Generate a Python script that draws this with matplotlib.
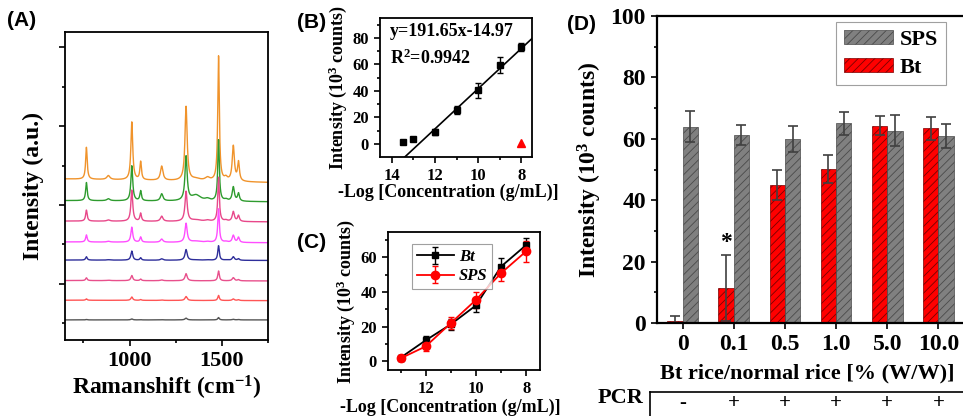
import numpy as np
import matplotlib.pyplot as plt
from matplotlib.patches import Patch
from matplotlib.lines import Line2D
import matplotlib.transforms as mtransforms

plt.rcParams['font.family'] = 'Liberation Serif'
plt.rcParams['font.weight'] = 'bold'
plt.rcParams['axes.labelweight'] = 'bold'
plt.rcParams['mathtext.default'] = 'regular'
plt.rcParams['hatch.linewidth'] = 0.6
plt.rcParams['axes.linewidth'] = 1.3

# ---- panel A: Raman spectra (peak table)
peak_pos = [766, 885, 1012, 1060, 1174, 1306, 1360, 1422, 1482, 1522, 1562, 1590]
peak_hwhm = [5, 10, 6, 5, 8, 7, 30, 15, 5, 10, 7, 6]
spec_colors = ['#F0932B', '#2E9B2E', '#E8488A', '#FF4DFF',
               '#2E2E9A', '#E8508C', '#FF5555', '#555555']
base_left = [3.66, 3.11, 2.59, 2.06, 1.60, 1.08, 0.58, 0.08]
base_right = [3.57, 3.08, 2.57, 2.04, 1.59, 1.07, 0.57, 0.08]
spec_heights = [
    [0.81, 0.10, 1.47, 0.46, 0.36, 1.88, 0.05, 0.08, 3.17, 0.08, 0.89, 0.48],
    [0.46, 0.05, 0.89, 0.25, 0.18, 1.12, 0.15, 0.05, 1.55, 0.04, 0.36, 0.20],
    [0.28, 0.03, 0.79, 0.20, 0.13, 0.76, 0.04, 0.03, 1.12, 0.03, 0.25, 0.15],
    [0.18, 0.02, 0.38, 0.13, 0.08, 0.48, 0.03, 0.02, 0.85, 0.02, 0.18, 0.13],
    [0.085, 0.01, 0.23, 0.06, 0.035, 0.27, 0.01, 0.01, 0.37, 0.01, 0.09, 0.04],
    [0.07, 0.01, 0.13, 0.04, 0.02, 0.18, 0.0, 0.0, 0.25, 0.0, 0.08, 0.03],
    [0.035, 0.0, 0.085, 0.02, 0.01, 0.10, 0.0, 0.0, 0.13, 0.0, 0.04, 0.02],
    [0.01, 0.0, 0.025, 0.005, 0.005, 0.045, 0.0, 0.0, 0.06, 0.0, 0.015, 0.01],
]

# ---- panel B: calibration
b_x = [13.5, 13, 12, 11, 10, 9, 8]
b_y = [1, 3.5, 8.8, 25.3, 40.4, 59.8, 73]
b_err = [1.5, 1.5, 2.5, 3, 5.5, 6, 3]
b_ctrl_x = [8]
b_ctrl_y = [0.5]
b_fit_x = [13.4, 7.5]
b_fit_y = [-10, 79.5]

# ---- panel C: Bt vs SPS
c_x = [13, 12, 11, 10, 9, 8]
c_bt = [2.1, 12.1, 21.3, 32.2, 54.6, 67]
c_bt_err = [1.5, 2.5, 3, 4, 5, 4]
c_sps = [1.7, 8.6, 22, 35.4, 50.8, 63.4]
c_sps_err = [1.5, 2.5, 3.5, 4.4, 4.5, 6]

# ---- panel D: rice samples
d_cats = ['0', '0.1', '0.5', '1.0', '5.0', '10.0']
d_bt = [0.5, 11.5, 45, 50.1, 64.3, 63.4]
d_bt_err = [1.9, 10.7, 4.9, 4.6, 3.1, 3.8]
d_sps = [64, 61.3, 59.9, 65, 62.6, 61]
d_sps_err = [5, 3.2, 4.2, 3.6, 5, 3.9]
pcr_signs = ['-', '+', '+', '+', '+', '+']

W, H = 963, 416
fig = plt.figure(figsize=(W / 100, H / 100), dpi=100)


def box(l, t, r, b):
    return [l / W, 1 - b / H, (r - l) / W, (b - t) / H]


def style(ax, size):
    ax.tick_params(which='both', direction='out', width=1.2, labelsize=size)
    ax.tick_params(which='major', length=4.5)
    ax.tick_params(which='minor', length=2.5)


# ---------------- A
axA = fig.add_axes(box(65, 32, 268, 340))
xs = np.linspace(650, 1750, 2201)
for col, hts, b0, b1 in zip(spec_colors, spec_heights, base_left, base_right):
    y = b0 + (b1 - b0) * (xs - 650) / 1100
    for p, w, h in zip(peak_pos, peak_hwhm, hts):
        y = y + h * w ** 2 / ((xs - p) ** 2 + w ** 2)
    axA.plot(xs, y, color=col, lw=1.0)
axA.set_xlim(650, 1750)
axA.set_ylim(-0.43, 7.39)
axA.set_xticks([1000, 1500])
axA.set_xticks([750, 1250, 1750], minor=True)
axA.set_yticks([1, 3, 5, 7])
axA.set_yticks([0, 2, 4, 6], minor=True)
axA.set_yticklabels([])
style(axA, 16)
axA.set_xlabel('Ramanshift (cm$^{-1}$)', fontsize=17, labelpad=2)
axA.set_ylabel('Intensity (a.u.)', fontsize=17, labelpad=7)

# ---------------- B
axB = fig.add_axes(box(380, 18, 532, 157))
axB.plot(b_fit_x, b_fit_y, color='black', lw=1.2)
axB.errorbar(b_x, b_y, yerr=b_err, fmt='s', color='black', ms=5,
             capsize=2.5, elinewidth=1.0, capthick=1.0)
axB.plot(b_ctrl_x, b_ctrl_y, '^', color='red', ms=6)
axB.set_xlim(14.55, 7.5)
axB.set_ylim(-10, 95)
axB.set_xticks([14, 12, 10, 8])
axB.set_xticks([13, 11, 9], minor=True)
axB.set_yticks([0, 20, 40, 60, 80])
axB.set_yticks([10, 30, 50, 70, 90], minor=True)
style(axB, 12)
axB.set_xlabel('-Log [Concentration (g/mL)]', fontsize=13)
axB.xaxis.set_label_coords(0.45, -0.19)
axB.set_ylabel('Intensity (10$^3$ counts)', fontsize=13, labelpad=2)
axB.text(0.066, 0.90, 'y=191.65x-14.97', transform=axB.transAxes,
         fontsize=13, va='center', ha='left')
axB.text(0.066, 0.71, 'R$^2$=0.9942', transform=axB.transAxes,
         fontsize=13, va='center', ha='left')

# ---------------- C
axC = fig.add_axes(box(388, 232, 540, 370))
axC.errorbar(c_x, c_bt, yerr=c_bt_err, fmt='-s', color='black', ms=5,
             lw=1.3, capsize=2.5, elinewidth=1.0, label='Bt')
axC.errorbar(c_x, c_sps, yerr=c_sps_err, fmt='-o', color='red', ms=6,
             lw=1.3, capsize=2.5, elinewidth=1.0, label='SPS')
axC.set_xlim(13.5, 7.45)
axC.set_ylim(-5, 74.5)
axC.set_xticks([12, 10, 8])
axC.set_xticks([13, 11, 9], minor=True)
axC.set_yticks([0, 20, 40, 60])
axC.set_yticks([10, 30, 50, 70], minor=True)
style(axC, 12)
axC.set_xlabel('-Log [Concentration (g/mL)]', fontsize=13)
axC.xaxis.set_label_coords(0.41, -0.21)
axC.set_ylabel('Intensity (10$^3$ counts)', fontsize=13, labelpad=2)
hC, lC = axC.get_legend_handles_labels()
legC = axC.legend(hC, lC, loc='upper left', bbox_to_anchor=(0.158, 0.913),
                  borderaxespad=0, prop={'size': 12, 'style': 'italic', 'weight': 'bold'},
                  handlelength=2.2, handletextpad=0.3, labelspacing=0.2,
                  borderpad=0.3, fancybox=False, edgecolor='#888888')
legC.get_frame().set_linewidth(0.8)

# ---------------- D
axD = fig.add_axes(box(657, 16, 964, 323))
idx = np.arange(len(d_cats))
bw = 0.3
axD.bar(idx - bw / 2, d_bt, bw, color='#FF0000', edgecolor='#7a0000',
        hatch='////', lw=0.5, label='Bt')
axD.bar(idx + bw / 2, d_sps, bw, color='#808080', edgecolor='#4a4a4a',
        hatch='////', lw=0.5, label='SPS')
axD.errorbar(idx - bw / 2, d_bt, yerr=d_bt_err, fmt='none', ecolor='#404040',
             capsize=3.5, elinewidth=1.2, capthick=1.2)
axD.errorbar(idx + bw / 2, d_sps, yerr=d_sps_err, fmt='none', ecolor='#404040',
             capsize=3.5, elinewidth=1.2, capthick=1.2)
axD.text(idx[1] - bw / 2, d_bt[1] + d_bt_err[1] + 0.5, '*', ha='center',
         va='bottom', fontsize=17)
axD.set_xlim(-0.5, 5.5)
axD.set_ylim(0, 100)
axD.set_xticks(idx)
axD.set_xticklabels(d_cats)
axD.set_yticks([0, 20, 40, 60, 80, 100])
axD.set_yticks([10, 30, 50, 70, 90], minor=True)
style(axD, 17)
for s in axD.spines.values():
    s.set_linewidth(1.6)
axD.set_xlabel('Bt rice/normal rice [% (W/W)]', fontsize=16, labelpad=5)
axD.xaxis.set_label_coords(0.49, -0.132)
axD.set_ylabel('Intensity (10$^3$ counts)', fontsize=17, labelpad=5)
legD = axD.legend([Patch(facecolor='#808080', edgecolor='#4a4a4a', hatch='////', lw=0.5),
                   Patch(facecolor='#FF0000', edgecolor='#7a0000', hatch='////', lw=0.5)],
                  ['SPS', 'Bt'], loc='upper right', bbox_to_anchor=(0.941, 0.98),
                  borderaxespad=0, fontsize=16, handlelength=2.2, handleheight=0.6,
                  handletextpad=0.3, labelspacing=0.35, borderpad=0.35,
                  fancybox=False, edgecolor='#888888')
legD.get_frame().set_linewidth(0.8)

# PCR row under panel D
trD = mtransforms.blended_transform_factory(axD.transData, axD.transAxes)
for i, sgn in zip(idx, pcr_signs):
    axD.text(i, -0.262, sgn, transform=trD, ha='center', va='center',
             fontsize=15, clip_on=False)
axD.text(-0.76, -0.245, 'PCR', transform=trD, ha='right', va='center',
         fontsize=16, clip_on=False)
axD.add_line(Line2D([-0.63, -0.63], [-0.225, -0.32], transform=trD,
                    color='black', lw=1.2, clip_on=False))
axD.add_line(Line2D([-0.63, 5.6], [-0.225, -0.225], transform=trD,
                    color='black', lw=1.2, clip_on=False))

# panel letters
for lab, x, y in [('(A)', 7, 20), ('(B)', 297, 23), ('(C)', 297, 242), ('(D)', 567, 24)]:
    fig.text(x / W, 1 - y / H, lab, family='Liberation Sans', weight='bold',
             fontsize=15, va='center', ha='left')

fig.savefig('out.png', dpi=100)
